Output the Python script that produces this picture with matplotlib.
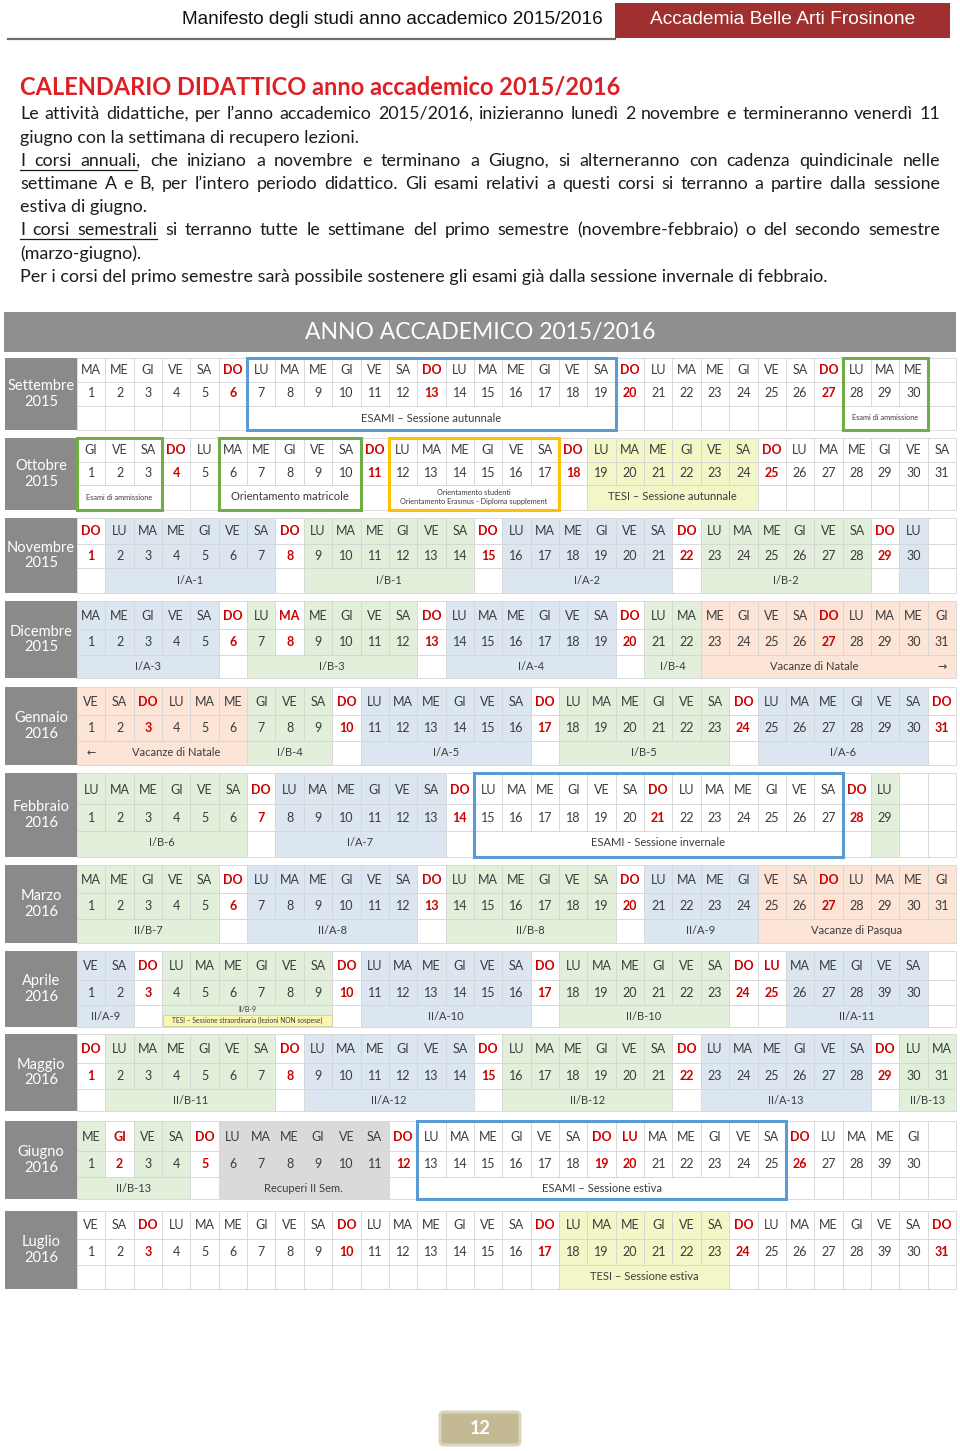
import matplotlib
matplotlib.use("Agg")
import matplotlib.pyplot as plt
from matplotlib.patches import Rectangle, FancyBboxPatch

# ---------------- texts ----------------
header_left = "Manifesto degli studi anno accademico 2015/2016"
header_right = "Accademia Belle Arti Frosinone"
title = "CALENDARIO DIDATTICO anno accademico 2015/2016"
paragraph_lines = [
    "Le attività didattiche, per l’anno accademico 2015/2016, inizieranno lunedì 2 novembre e termineranno venerdì 11",
    "giugno con la settimana di recupero lezioni.",
    "I corsi annuali, che iniziano a novembre e terminano a Giugno, si alterneranno con cadenza quindicinale nelle",
    "settimane A e B, per l’intero periodo didattico. Gli esami relativi a questi corsi si terranno a partire dalla sessione",
    "estiva di giugno.",
    "I corsi semestrali si terranno tutte le settimane del primo semestre (novembre-febbraio) o del secondo semestre",
    "(marzo-giugno).",
    "Per i corsi del primo semestre sarà possibile sostenere gli esami già dalla sessione invernale di febbraio.",
]
justified = [True, False, True, True, False, True, False, False]
underlined_words = [0, 0, 3, 0, 0, 3, 0, 0]
table_title = "ANNO ACCADEMICO 2015/2016"
page_number = "12"

# ---------------- calendar data ----------------
weekday_names = ["LU", "MA", "ME", "GI", "VE", "SA", "DO"]
month_names = ["Settembre", "Ottobre", "Novembre", "Dicembre", "Gennaio", "Febbraio",
               "Marzo", "Aprile", "Maggio", "Giugno", "Luglio"]
month_years = ["2015", "2015", "2015", "2015", "2016", "2016",
               "2016", "2016", "2016", "2016", "2016"]
month_lengths = [30, 31, 30, 31, 31, 29, 31, 30, 31, 30, 31]
month_first_weekday = ["MA", "GI", "DO", "MA", "VE", "LU", "MA", "VE", "DO", "ME", "VE"]
red_weekdays = {"Dicembre": [8], "Aprile": [25], "Giugno": [2, 20]}
printed_day_overrides = {"Aprile": {29: "39"}, "Giugno": {29: "39"}, "Luglio": {29: "39"}}

# coloured bands: (month, first day, last day, kind, label)
bands = [
    ("Ottobre", 19, 24, "T", "TESI – Sessione autunnale"),
    ("Novembre", 2, 7, "A", "I/A-1"), ("Novembre", 9, 14, "B", "I/B-1"),
    ("Novembre", 16, 21, "A", "I/A-2"), ("Novembre", 23, 28, "B", "I/B-2"),
    ("Novembre", 30, 30, "A", ""),
    ("Dicembre", 1, 5, "A", "I/A-3"), ("Dicembre", 7, 12, "B", "I/B-3"),
    ("Dicembre", 14, 19, "A", "I/A-4"), ("Dicembre", 21, 22, "B", "I/B-4"),
    ("Dicembre", 23, 31, "V", "Vacanze di Natale"),
    ("Gennaio", 1, 6, "V", "Vacanze di Natale"), ("Gennaio", 7, 9, "B", "I/B-4"),
    ("Gennaio", 11, 16, "A", "I/A-5"), ("Gennaio", 18, 23, "B", "I/B-5"),
    ("Gennaio", 25, 30, "A", "I/A-6"),
    ("Febbraio", 1, 6, "B", "I/B-6"), ("Febbraio", 8, 13, "A", "I/A-7"),
    ("Febbraio", 29, 29, "B", ""),
    ("Marzo", 1, 5, "B", "II/B-7"), ("Marzo", 7, 12, "A", "II/A-8"),
    ("Marzo", 14, 19, "B", "II/B-8"), ("Marzo", 21, 24, "A", "II/A-9"),
    ("Marzo", 25, 31, "V", "Vacanze di Pasqua"),
    ("Aprile", 1, 2, "A", "II/A-9"), ("Aprile", 4, 9, "B", "II/B-9"),
    ("Aprile", 11, 16, "A", "II/A-10"), ("Aprile", 18, 23, "B", "II/B-10"),
    ("Aprile", 26, 30, "A", "II/A-11"),
    ("Maggio", 2, 7, "B", "II/B-11"), ("Maggio", 9, 14, "A", "II/A-12"),
    ("Maggio", 16, 21, "B", "II/B-12"), ("Maggio", 23, 28, "A", "II/A-13"),
    ("Maggio", 30, 31, "B", "II/B-13"),
    ("Giugno", 1, 4, "B", "II/B-13"), ("Giugno", 6, 11, "R", "Recuperi II Sem."),
    ("Luglio", 18, 23, "T", "TESI – Sessione estiva"),
]
# outlined periods: (month, first day, last day, kind, label, small text)
outlines = [
    ("Settembre", 7, 19, "esami", "ESAMI – Sessione autunnale", False),
    ("Settembre", 28, 30, "amm", "Esami di ammissione", True),
    ("Ottobre", 1, 3, "amm", "Esami di ammissione", True),
    ("Ottobre", 6, 10, "amm", "Orientamento matricole", False),
    ("Ottobre", 12, 17, "orient", "Orientamento studenti\nOrientamento Erasmus - Diploma supplement", True),
    ("Febbraio", 15, 27, "esami", "ESAMI - Sessione invernale", False),
    ("Giugno", 13, 25, "esami", "ESAMI – Sessione estiva", False),
]
arrows = {"Dicembre": (31, "→"), "Gennaio": (1, "←")}
sub_notes = {("Aprile", 4): "TESI – Sessione straordinaria (lezioni NON sospese)"}

# ---------------- style / layout ----------------
FAM = ["Lato", "DejaVu Sans"]
RED = "#cc0000"
TXT = "#3c3c3c"
GRID = "#d6d6d6"
GRAY_LABEL = "#8a8a8a"
band_colors = {"A": "#dce6f1", "B": "#e2efda", "V": "#fce4d6", "T": "#f3f6c6", "R": "#dadada"}
outline_colors = {"esami": "#5b9bd5", "amm": "#70ad47", "orient": "#ffc000"}

X_LEFT, X0, X_END, NCOL = 5, 77, 956, 31
CW = (X_END - X0) / NCOL
block_tops = [358, 438, 518, 601, 687, 773, 865, 951, 1034, 1121, 1211]
block_bottoms = [430, 510, 593, 678, 765, 857, 943, 1027, 1111, 1199, 1289]
row_centers = [(370, 393, 418), (450, 473, 497), (531, 556, 580), (616, 642, 667),
               (702, 728, 753), (790, 818, 843), (880, 906, 931), (966, 993, 1016),
               (1049, 1076, 1101), (1137, 1164, 1189), (1225, 1252, 1277)]
para_y = [114, 138, 161, 184, 207, 230, 254, 277]

fig = plt.figure(figsize=(9.6, 14.51), dpi=100)
ax = fig.add_axes([0, 0, 1, 1])
ax.set_xlim(0, 960)
ax.set_ylim(1451, 0)
ax.axis("off")
R = fig.canvas.get_renderer()


def text_width(s, size, family, weight="normal"):
    t = ax.text(0, 0, s, fontsize=size, family=family, weight=weight)
    w = t.get_window_extent(renderer=R).width
    t.remove()
    return w


def fit(s, target, family, weight="normal", base=12):
    return base * target / text_width(s, base, family, weight)


# ---------------- header ----------------
HFAM = ["Liberation Sans Narrow", "Liberation Sans"]
ax.add_patch(Rectangle((615, 3), 335, 35, fc="#a0302f", ec="none"))
ax.plot([8, 615], [38.5, 38.5], color="#6e6e6e", lw=1.6)
ax.text(603, 20, header_left, ha="right", va="center", color="#111111",
        fontsize=fit(header_left, 423, HFAM), family=HFAM)
ax.text(783, 20, header_right, ha="center", va="center", color="white",
        fontsize=fit(header_right, 266, HFAM), family=HFAM)

# ---------------- title and paragraph ----------------
ax.text(20, 87, title, ha="left", va="center", color="#dd1f26", weight="bold",
        fontsize=fit(title, 598, FAM, "bold"), family=FAM)

psize = fit(paragraph_lines[-1], 800, FAM)
for line, just, nund, y in zip(paragraph_lines, justified, underlined_words, para_y):
    if not just:
        ax.text(20, y, line, ha="left", va="center", fontsize=psize, family=FAM, color="#1c1c1c")
        continue
    words = line.split(" ")
    widths = [text_width(w, psize, FAM) for w in words]
    gap = (940 - 20 - sum(widths)) / (len(words) - 1)
    x = 20
    for i, (w, wd) in enumerate(zip(words, widths)):
        ax.text(x, y, w, ha="left", va="center", fontsize=psize, family=FAM, color="#1c1c1c")
        if nund and i == nund - 1:
            end = x + text_width(w.rstrip(","), psize, FAM)
            ax.plot([20, end], [y + 8.5, y + 8.5], color="#1c1c1c", lw=0.9)
        x += wd + gap

# ---------------- table title ----------------
ax.add_patch(Rectangle((4, 312), 952, 40, fc="#8f8f8f", ec="none"))
ax.text(480, 332.5, table_title, ha="center", va="center", color="white",
        fontsize=fit(table_title, 348, FAM), family=FAM)

# ---------------- months ----------------
for mi, name in enumerate(month_names):
    top, bot = block_tops[mi], block_bottoms[mi]
    c0, c1, c2 = row_centers[mi]
    rb = [top, (c0 + c1) / 2, (c1 + c2) / 2, bot]
    ax.add_patch(Rectangle((X_LEFT, top), X0 - X_LEFT, bot - top, fc=GRAY_LABEL, ec="none"))
    ax.text((X_LEFT + X0) / 2, (top + bot) / 2, f"{name}\n{month_years[mi]}", ha="center",
            va="center", color="white", fontsize=10.5, family=FAM, linespacing=1.15)

    start = weekday_names.index(month_first_weekday[mi])
    fill = [None] * NCOL
    mbands = [b for b in bands if b[0] == name]
    for (_, d1, d2, kind, _) in mbands:
        for d in range(d1, d2 + 1):
            fill[d - 1] = kind
    reds = red_weekdays.get(name, [])
    overrides = printed_day_overrides.get(name, {})

    for col in range(NCOL):
        day = col + 1
        x = X0 + col * CW
        fc = band_colors.get(fill[col], "white")
        fc_top = "white" if day in reds else fc
        for r in (0, 1):
            ax.add_patch(Rectangle((x, rb[r]), CW, rb[r + 1] - rb[r], fc=fc_top, ec=GRID, lw=0.6, zorder=1))
        if day <= month_lengths[mi]:
            wd = weekday_names[(start + col) % 7]
            red = wd == "DO" or day in reds
            col_t = RED if red else TXT
            wt = "bold" if red else "normal"
            ax.text(x + CW / 2, c0, wd, ha="center", va="center", color=col_t, weight=wt,
                    fontsize=9, family=FAM, zorder=3)
            ax.text(x + CW / 2, c1, overrides.get(day, str(day)), ha="center", va="center",
                    color=col_t, weight=wt, fontsize=9, family=FAM, zorder=3)

    # label row
    covered = set()
    spans = [(d1, d2, kind, lab, False) for (_, d1, d2, kind, lab) in mbands]
    spans += [(d1, d2, None, lab, small) for (mn, d1, d2, _, lab, small) in outlines if mn == name]
    for (d1, d2, kind, lab, small) in spans:
        x = X0 + (d1 - 1) * CW
        wspan = (d2 - d1 + 1) * CW
        ax.add_patch(Rectangle((x, rb[2]), wspan, rb[3] - rb[2], fc=band_colors.get(kind, "white"),
                               ec=GRID, lw=0.6, zorder=1))
        covered.update(range(d1 - 1, d2))
        cx = x + wspan / 2
        if name in arrows:
            ad, sym = arrows[name]
            if d1 <= ad <= d2:
                ax_ = X0 + (ad - 1) * CW + CW / 2
                ax.text(ax_, c2, sym, ha="center", va="center", color=TXT, fontsize=8,
                        family=["DejaVu Sans"], zorder=3)
                cx = cx - CW / 2 if ad == d2 else cx + CW / 2
        note = sub_notes.get((name, d1))
        if note:
            ymid = (rb[2] + rb[3]) / 2
            ax.text(cx, rb[2] + 5.5, lab, ha="center", va="center", color=TXT, fontsize=5,
                    family=FAM, zorder=3)
            ax.add_patch(Rectangle((x + 0.5, ymid - 1), wspan - 1, rb[3] - ymid, fc="#fbf6b0",
                                   ec="#c8c8a0", lw=0.5, zorder=2))
            ax.text(cx, (ymid - 1 + rb[3]) / 2, note, ha="center", va="center", color=TXT,
                    fontsize=4.8, family=FAM, zorder=3)
        elif lab:
            ax.text(cx, c2, lab, ha="center", va="center", color=TXT,
                    fontsize=5.3 if small else 8, family=FAM, zorder=3, linespacing=1.2)
    for col in range(NCOL):
        if col not in covered:
            ax.add_patch(Rectangle((X0 + col * CW, rb[2]), CW, rb[3] - rb[2], fc="white",
                                   ec=GRID, lw=0.6, zorder=1))

    # outlined periods
    for (mn, d1, d2, kind, lab, small) in outlines:
        if mn != name:
            continue
        ax.add_patch(Rectangle((X0 + (d1 - 1) * CW, top), (d2 - d1 + 1) * CW, bot - top,
                               fill=False, ec=outline_colors[kind], lw=2.2, zorder=4))

# ---------------- footer ----------------
ax.add_patch(FancyBboxPatch((440, 1412), 80, 33, boxstyle="round,pad=0,rounding_size=4",
                            fc="#c3b994", ec="#dcd5bd", lw=2.2))
ax.text(480, 1428.5, page_number, ha="center", va="center", color="white", weight="bold",
        fontsize=13, family=FAM)

fig.savefig("out.png", dpi=100)
